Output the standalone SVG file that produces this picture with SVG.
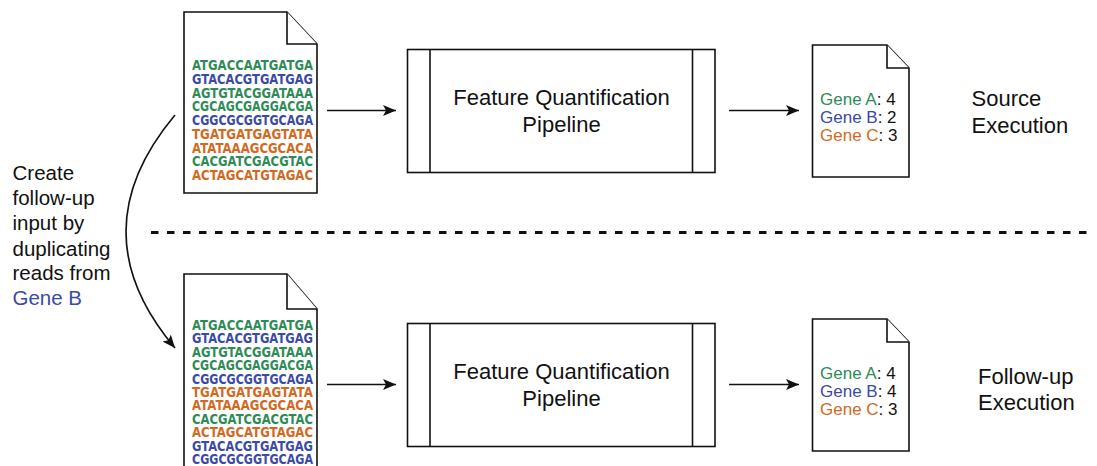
<svg xmlns="http://www.w3.org/2000/svg" width="1097" height="466" viewBox="0 0 1097 466">
<defs>
<style>
.doc{fill:#fff;stroke:#111;stroke-width:1.6;stroke-linejoin:miter}
.box{fill:#fff;stroke:#111;stroke-width:1.6}
.lbl{font-family:"Liberation Sans",Arial,sans-serif;fill:#111}
.dna{font-family:"DejaVu Sans",sans-serif;font-weight:bold;font-size:13.3px}
.g{fill:#2e8b57}
.b{fill:#3a4aa5}
.o{fill:#d2691e}
.conn{fill:none;stroke:#111;stroke-width:1.6}
</style>
<marker id="ah" markerUnits="userSpaceOnUse" markerWidth="14" markerHeight="12" refX="13" refY="5.5" orient="auto">
<path d="M0,0 L13,5.5 L0,11 L3,5.5 z" fill="#111"/>
</marker>
</defs>
<rect width="1097" height="466" fill="#fff"/>

<g id="input-source">
<path class="doc" d="M184,12 H287 L317,44 V193 H184 Z"/>
<path class="doc" d="M287,12 V44 H317" fill="none"/>
<g class="dna">
<text x="192" y="70" textLength="121" lengthAdjust="spacingAndGlyphs" class="g">ATGACCAATGATGA</text>
<text x="192" y="83.75" textLength="121" lengthAdjust="spacingAndGlyphs" class="b">GTACACGTGATGAG</text>
<text x="192" y="97.5" textLength="121" lengthAdjust="spacingAndGlyphs" class="g">AGTGTACGGATAAA</text>
<text x="192" y="111.25" textLength="121" lengthAdjust="spacingAndGlyphs" class="g">CGCAGCGAGGACGA</text>
<text x="192" y="125" textLength="121" lengthAdjust="spacingAndGlyphs" class="b">CGGCGCGGTGCAGA</text>
<text x="192" y="138.75" textLength="121" lengthAdjust="spacingAndGlyphs" class="o">TGATGATGAGTATA</text>
<text x="192" y="152.5" textLength="121" lengthAdjust="spacingAndGlyphs" class="o">ATATAAAGCGCACA</text>
<text x="192" y="166.25" textLength="121" lengthAdjust="spacingAndGlyphs" class="g">CACGATCGACGTAC</text>
<text x="192" y="180" textLength="121" lengthAdjust="spacingAndGlyphs" class="o">ACTAGCATGTAGAC</text>
</g>
</g>

<g id="pipeline-source">
<rect class="box" x="407.5" y="49.5" width="307.5" height="123"/>
<line class="box" x1="430" y1="49.5" x2="430" y2="172.5"/>
<line class="box" x1="692.5" y1="49.5" x2="692.5" y2="172.5"/>
<text class="lbl" x="561.5" y="104.5" font-size="22" text-anchor="middle">Feature Quantification</text>
<text class="lbl" x="561.5" y="131.5" font-size="22" text-anchor="middle">Pipeline</text>
</g>

<g id="output-source">
<path class="doc" d="M812.5,45 H887 L909,68 V177 H812.5 Z"/>
<path class="doc" d="M887,45 V68 H909" fill="none"/>
<text class="lbl" x="820" y="105" font-size="17"><tspan class="g">Gene A</tspan>: 4</text>
<text class="lbl" x="820" y="123" font-size="17"><tspan class="b">Gene B</tspan>: 2</text>
<text class="lbl" x="820" y="141" font-size="17"><tspan class="o">Gene C</tspan>: 3</text>
</g>

<g id="label-source">
<text class="lbl" x="971.5" y="106" font-size="22">Source</text>
<text class="lbl" x="971.5" y="132.5" font-size="22">Execution</text>
</g>

<g id="label-transform">
<text class="lbl" x="12.5" y="180" font-size="20.5">Create</text>
<text class="lbl" x="12.5" y="205" font-size="20.5">follow-up</text>
<text class="lbl" x="12.5" y="230" font-size="20.5">input by</text>
<text class="lbl" x="12.5" y="255.5" font-size="20.5">duplicating</text>
<text class="lbl" x="12.5" y="280" font-size="20.5">reads from</text>
<text class="lbl b" x="12.5" y="305" font-size="20.5">Gene B</text>
</g>

<g id="input-followup">
<path class="doc" d="M184,274 H287 L317,309 V470 H184 Z"/>
<path class="doc" d="M287,274 V309 H317" fill="none"/>
<g class="dna">
<text x="192" y="330" textLength="121" lengthAdjust="spacingAndGlyphs" class="g">ATGACCAATGATGA</text>
<text x="192" y="343.4" textLength="121" lengthAdjust="spacingAndGlyphs" class="b">GTACACGTGATGAG</text>
<text x="192" y="356.8" textLength="121" lengthAdjust="spacingAndGlyphs" class="g">AGTGTACGGATAAA</text>
<text x="192" y="370.2" textLength="121" lengthAdjust="spacingAndGlyphs" class="g">CGCAGCGAGGACGA</text>
<text x="192" y="383.6" textLength="121" lengthAdjust="spacingAndGlyphs" class="b">CGGCGCGGTGCAGA</text>
<text x="192" y="397" textLength="121" lengthAdjust="spacingAndGlyphs" class="o">TGATGATGAGTATA</text>
<text x="192" y="410.4" textLength="121" lengthAdjust="spacingAndGlyphs" class="o">ATATAAAGCGCACA</text>
<text x="192" y="423.8" textLength="121" lengthAdjust="spacingAndGlyphs" class="g">CACGATCGACGTAC</text>
<text x="192" y="437.2" textLength="121" lengthAdjust="spacingAndGlyphs" class="o">ACTAGCATGTAGAC</text>
<text x="192" y="450.6" textLength="121" lengthAdjust="spacingAndGlyphs" class="b">GTACACGTGATGAG</text>
<text x="192" y="464" textLength="121" lengthAdjust="spacingAndGlyphs" class="b">CGGCGCGGTGCAGA</text>
</g>
</g>

<g id="pipeline-followup">
<rect class="box" x="407.5" y="323.5" width="307.5" height="123"/>
<line class="box" x1="430" y1="323.5" x2="430" y2="446.5"/>
<line class="box" x1="692.5" y1="323.5" x2="692.5" y2="446.5"/>
<text class="lbl" x="561.5" y="378.5" font-size="22" text-anchor="middle">Feature Quantification</text>
<text class="lbl" x="561.5" y="405.5" font-size="22" text-anchor="middle">Pipeline</text>
</g>

<g id="output-followup">
<path class="doc" d="M812.5,319 H887 L909,342 V451 H812.5 Z"/>
<path class="doc" d="M887,319 V342 H909" fill="none"/>
<text class="lbl" x="820" y="379" font-size="17"><tspan class="g">Gene A</tspan>: 4</text>
<text class="lbl" x="820" y="397" font-size="17"><tspan class="b">Gene B</tspan>: 4</text>
<text class="lbl" x="820" y="415" font-size="17"><tspan class="o">Gene C</tspan>: 3</text>
</g>

<g id="label-followup">
<text class="lbl" x="978" y="383.5" font-size="22">Follow-up</text>
<text class="lbl" x="978" y="410" font-size="22">Execution</text>
</g>

<g id="connectors">
<line class="conn" x1="327" y1="110.5" x2="396" y2="110.5" marker-end="url(#ah)"/>
<line class="conn" x1="729" y1="110.5" x2="799" y2="110.5" marker-end="url(#ah)"/>
<line class="conn" x1="327" y1="384.5" x2="396" y2="384.5" marker-end="url(#ah)"/>
<line class="conn" x1="729" y1="384.5" x2="799" y2="384.5" marker-end="url(#ah)"/>
<path class="conn" d="M175,115 Q77,232 175,348" marker-end="url(#ah)"/>
<line x1="151" y1="232.5" x2="1094" y2="232.5" stroke="#111" stroke-width="3" stroke-dasharray="7.5 8.5"/>
</g>
</svg>
